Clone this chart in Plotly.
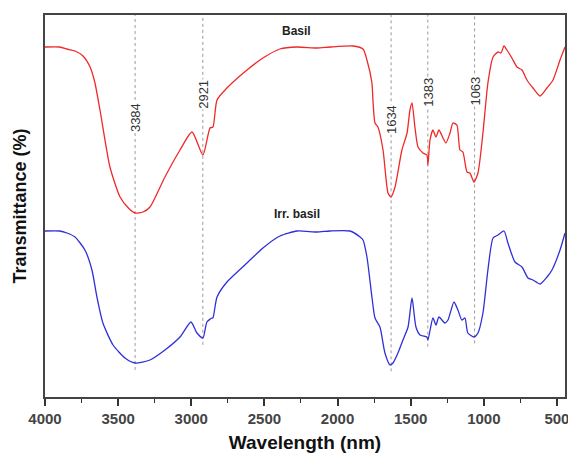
import numpy as np
import plotly.graph_objects as go

# Wavenumber axis values (cm-1, shown as "Wavelength (nm)")
basil_x = [4000, 3900, 3850, 3795, 3740, 3692, 3660, 3624, 3556, 3487, 3430, 3385, 3330, 3282, 3180, 3077, 2995,
           2920, 2872, 2852, 2824, 2756, 2619, 2510, 2394, 2277, 2141, 2052, 1895, 1826,
           1799, 1765, 1758, 1744, 1724, 1689, 1655, 1635, 1607, 1560, 1525, 1505, 1491,
           1471, 1450, 1416, 1389, 1382, 1368, 1348, 1327, 1307, 1279, 1259, 1231, 1211,
           1184, 1163, 1143, 1115, 1095, 1067, 1040, 1006, 972, 937, 903, 883, 862, 842,
           808, 773, 739, 705, 664, 616, 568, 527, 479, 445]
basil_y = [350, 350, 348, 346, 341, 330, 315, 287, 230, 200, 189, 184, 185, 190, 220, 247, 265,
           242, 269, 270, 297, 309, 327, 339, 348, 350, 349, 350, 351, 348,
           337, 314, 297, 274, 270, 247, 204, 200, 210, 247, 264, 287, 294,
           270, 250, 244, 242, 232, 257, 267, 260, 267, 259, 254, 264, 274,
           272, 247, 245, 225, 224, 215, 224, 264, 314, 340, 345, 344, 351, 347,
           339, 330, 327, 317, 309, 301, 309, 317, 337, 350]

irr_x = [4000, 3900, 3850, 3795, 3727, 3679, 3645, 3604, 3535, 3453, 3385, 3282, 3180, 3077,
         3002, 2961, 2920, 2893, 2859, 2852, 2824, 2756, 2619, 2510, 2394, 2277, 2141,
         2052, 1915, 1846, 1826, 1799, 1765, 1744, 1710, 1676, 1641, 1621, 1587, 1553,
         1518, 1491, 1464, 1436, 1389, 1382, 1348, 1327, 1307, 1266, 1245, 1204, 1177,
         1150, 1129, 1109, 1067, 1040, 1006, 972, 937, 903, 862, 835, 787, 739, 698,
         664, 616, 568, 534, 479, 445]
irr_y = [166, 166, 164, 160, 147, 127, 100, 74, 52, 39, 34, 37, 47, 60,
         75, 64, 59, 75, 79, 79, 100, 115, 134, 149, 161, 166, 165,
         166, 166, 160, 157, 140, 100, 79, 70, 44, 32, 34, 44, 57,
         70, 99, 70, 62, 60, 57, 79, 72, 80, 74, 77, 95, 87,
         77, 79, 64, 60, 64, 84, 127, 159, 162, 166, 154, 135, 130, 119,
         117, 113, 120, 127, 147, 164]

peaks = [3384, 2921, 1634, 1383, 1063]
peak_label_y = [279, 303, 277, 305, 306]

x_ticks = [4000, 3500, 3000, 2500, 2000, 1500, 1000, 500]

FONT = "Arial, Liberation Sans, sans-serif"

fig = go.Figure()
fig.add_trace(go.Scatter(x=basil_x, y=basil_y, mode="lines",
                         line=dict(color="#f02828", width=1.3, shape="spline", smoothing=0.6),
                         name="Basil"))
fig.add_trace(go.Scatter(x=irr_x, y=irr_y, mode="lines",
                         line=dict(color="#2f2fd8", width=1.3, shape="spline", smoothing=0.6),
                         name="Irr. basil"))

ix = np.array(irr_x[::-1], dtype=float)
iy = np.array(irr_y[::-1], dtype=float)
for p, ly in zip(peaks, peak_label_y):
    bottom = float(np.interp(p, ix, iy)) - 7
    fig.add_shape(type="line", x0=p, x1=p, y0=bottom, y1=382, xref="x", yref="y",
                  line=dict(color="#9a9a9a", width=1, dash="dot"), layer="below")
    fig.add_annotation(x=p, y=ly, text=str(p), textangle=-90, showarrow=False,
                       font=dict(family=FONT, size=13, color="#333333"),
                       bgcolor="white", borderpad=0)

fig.add_annotation(x=2280, y=366, text="<b>Basil</b>", showarrow=False,
                   font=dict(family=FONT, size=12, color="#222222"))
fig.add_annotation(x=2280, y=183, text="<b>Irr. basil</b>", showarrow=False,
                   font=dict(family=FONT, size=12, color="#222222"))

fig.update_layout(
    width=568, height=457,
    margin=dict(l=45, r=3, t=15, b=60, autoexpand=False),
    plot_bgcolor="white", paper_bgcolor="white",
    showlegend=False,
    font=dict(family=FONT),
)
fig.update_xaxes(
    range=[4000, 445], tickvals=x_ticks, ticktext=[str(t) for t in x_ticks],
    automargin=False, ticklabeloverflow="allow",
    ticks="outside", ticklen=7, tickwidth=1.5, tickcolor="#333",
    showline=True, linewidth=2, linecolor="#444", mirror=True,
    showgrid=False, zeroline=False,
    tickfont=dict(family=FONT, size=15, color="#444444", weight="bold"),
    minor=dict(ticks="outside", ticklen=4, dtick=250, tickcolor="#333", tickwidth=1.2),
    title=dict(text="<b>Wavelength (nm)</b>", font=dict(family=FONT, size=19, color="#111"),
               standoff=10),
)
fig.update_yaxes(
    range=[0, 382], showticklabels=False, ticks="",
    automargin=False,
    showline=True, linewidth=2, linecolor="#444", mirror=True,
    showgrid=False, zeroline=False,
    title=dict(text="<b>Transmittance (%)</b>", font=dict(family=FONT, size=18, color="#111"),
               standoff=12),
)

fig.write_html("out.html", config={"displayModeBar": False},
               post_script="document.body.style.margin='0';document.body.style.overflow='hidden';")
